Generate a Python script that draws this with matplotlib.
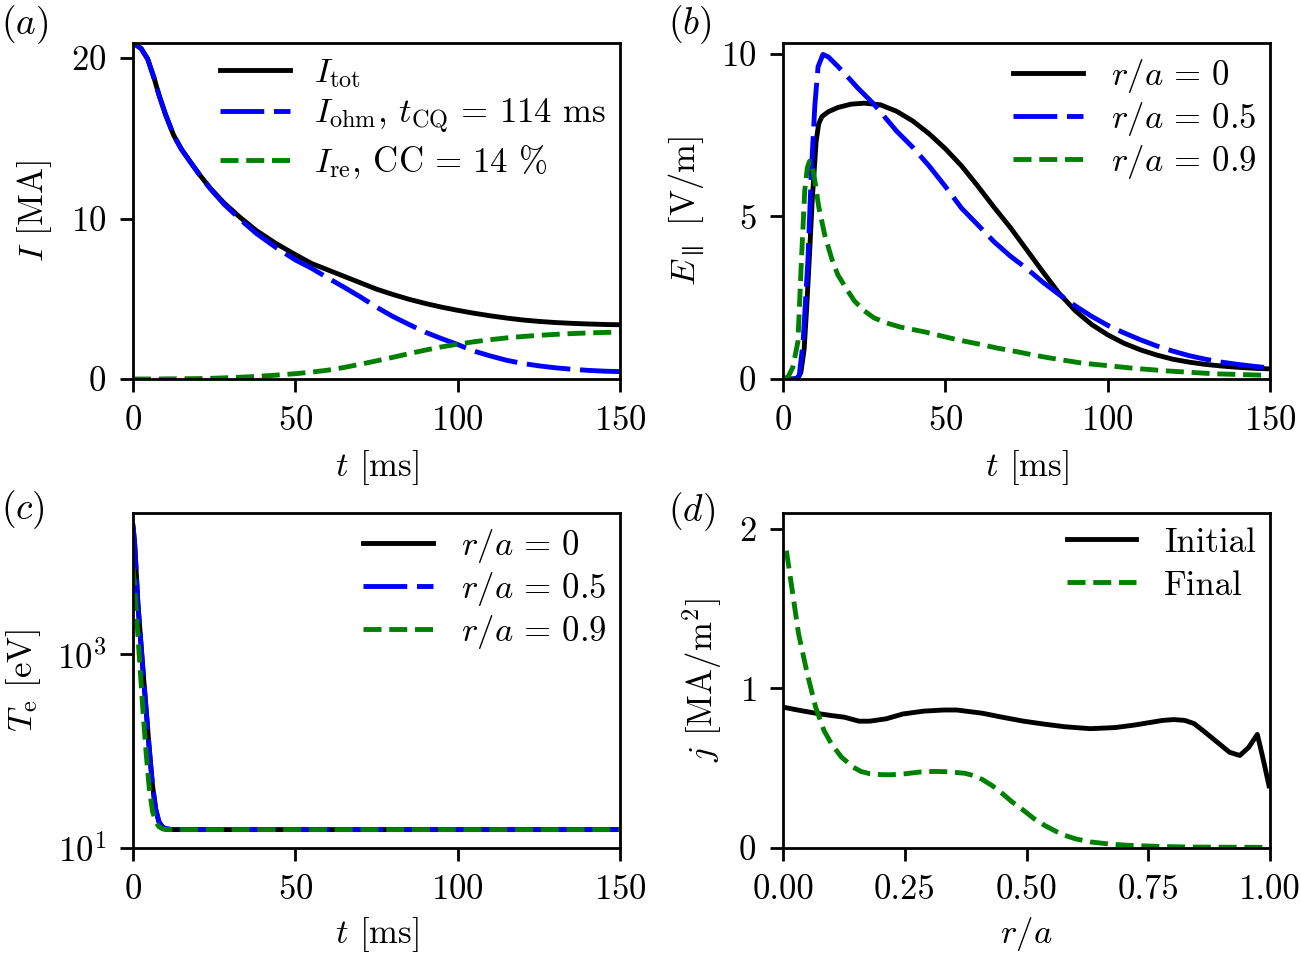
import matplotlib
matplotlib.use("Agg")
import matplotlib.pyplot as plt
from matplotlib.ticker import NullLocator

plt.rcParams.update({
    "font.family": "cmr10",
    "mathtext.fontset": "cm",
    "axes.formatter.use_mathtext": True,
    "axes.unicode_minus": False,
    "font.size": 12.5,
    "axes.labelpad": 4,
    "lines.linewidth": 1.75,
    "axes.linewidth": 1.0,
    "xtick.major.size": 4.8,
    "ytick.major.size": 4.8,
    "xtick.major.width": 1.0,
    "ytick.major.width": 1.0,
    "xtick.major.pad": 4.8,
    "ytick.major.pad": 4.8,
})

# ---------------- data (a) ----------------
t_a = [0, 2.5, 4.5, 6.5, 8, 10, 12.5, 15, 18, 21, 24, 28, 33, 38, 44, 50, 55, 60, 65, 70,
       75, 80, 85, 90, 95, 100, 105, 110, 115, 120, 125, 130, 135, 140, 145, 150]
I_tot = [20.94, 20.6, 19.95, 18.75, 17.7, 16.5, 15.2, 14.3, 13.44, 12.6, 11.85, 10.98, 10.07,
         9.25, 8.45, 7.75, 7.2, 6.8, 6.4, 6.0, 5.6, 5.27, 4.97, 4.71, 4.48, 4.28, 4.1, 3.94,
         3.8, 3.68, 3.59, 3.52, 3.47, 3.43, 3.4, 3.38]
I_ohm = [20.94, 20.6, 19.95, 18.75, 17.7, 16.49, 15.19, 14.28, 13.42, 12.57, 11.81, 10.9,
         9.95, 9.07, 8.2, 7.42, 6.9, 6.3, 5.72, 5.12, 4.48, 3.9, 3.4, 2.92, 2.52, 2.15, 1.74,
         1.44, 1.17, 0.97, 0.82, 0.7, 0.61, 0.54, 0.49, 0.46]
I_re = [0, 0, 0, 0, 0, 0.01, 0.01, 0.02, 0.02, 0.03, 0.04, 0.07, 0.11, 0.16, 0.24, 0.33,
        0.43, 0.55, 0.72, 0.92, 1.13, 1.35, 1.58, 1.8, 2.0, 2.17, 2.32, 2.45, 2.56, 2.65,
        2.72, 2.78, 2.83, 2.87, 2.9, 2.92]

# ---------------- data (b) ----------------
t_b0 = [0, 3, 4.5, 5.5, 6.5, 7.3, 8.2, 9, 9.6, 10.2, 11, 12, 14, 17, 21, 25, 30, 35, 40, 45,
        50, 55, 60, 65, 70, 75, 80, 85, 90, 95, 100, 105, 110, 115, 120, 125, 130, 135, 140,
        145, 150]
E_r0 = [0, 0, 0.03, 0.2, 0.9, 2.2, 3.9, 5.5, 6.4, 7.3, 7.85, 8.07, 8.22, 8.35, 8.45, 8.48,
        8.43, 8.23, 7.93, 7.54, 7.08, 6.55, 5.93, 5.28, 4.66, 3.98, 3.3, 2.64, 2.1, 1.68, 1.36,
        1.1, 0.9, 0.74, 0.61, 0.52, 0.45, 0.4, 0.36, 0.33, 0.31]
t_b5 = [0, 4, 5, 6.2, 7.7, 8.7, 9.8, 10.8, 12.3, 14, 17, 20, 23, 28, 35, 40, 45, 50, 55, 60,
        65, 70, 75, 80, 85, 90, 95, 100, 105, 110, 115, 120, 125, 130, 135, 140, 145, 150]
E_r5 = [0, 0, 0.1, 1.15, 3.7, 6.3, 8.4, 9.6, 9.98, 9.9, 9.6, 9.28, 8.95, 8.45, 7.62, 7.12,
        6.55, 5.92, 5.25, 4.74, 4.22, 3.78, 3.4, 2.98, 2.6, 2.25, 1.93, 1.65, 1.42, 1.21, 1.02,
        0.86, 0.72, 0.61, 0.52, 0.45, 0.39, 0.34]
t_b9 = [0, 1.5, 3, 4.6, 5.7, 6.7, 7.5, 8.2, 9, 9.8, 11, 12.8, 15, 16.9, 20, 22, 25, 28, 32,
        36, 40, 44, 51, 56, 61, 66, 72, 77, 82, 87, 92, 97, 103, 108, 113, 118, 123, 128,
        133, 140, 150]
E_r9 = [0, 0.06, 0.35, 1.15, 3.7, 5.8, 6.5, 6.7, 6.55, 6.1, 5.3, 4.45, 3.7, 3.2, 2.7, 2.4,
        2.1, 1.88, 1.72, 1.6, 1.52, 1.44, 1.27, 1.16, 1.06, 0.95, 0.84, 0.74, 0.65, 0.57,
        0.49, 0.44, 0.38, 0.33, 0.29, 0.25, 0.22, 0.19, 0.16, 0.14, 0.11]

# ---------------- data (c) ----------------
t_c0 = [0, 0.5, 1, 1.5, 2, 3, 4, 5, 6, 7, 8, 9, 10, 12, 150]
T_r0 = [21380, 14125, 7080, 3390, 2040, 741, 282, 107, 44.7, 25.1, 18.6, 16.6, 15.85, 15.5, 15.5]
T_r5 = [21380, 14125, 7080, 3390, 2040, 741, 282, 107, 44.7, 25.1, 18.6, 16.6, 15.85, 15.5, 15.5]
t_c9 = [0, 0.5, 1, 2, 3, 4, 5, 6, 7, 8, 9, 10, 150]
T_r9 = [7940, 5250, 2820, 891, 282, 100, 41.7, 24.0, 18.6, 16.6, 15.85, 15.5, 15.5]

# ---------------- data (d) ----------------
r_init = [0, 0.03, 0.067, 0.1, 0.126, 0.156, 0.178, 0.212, 0.246, 0.289, 0.33, 0.357, 0.409,
          0.45, 0.494, 0.54, 0.579, 0.631, 0.682, 0.72, 0.75, 0.78, 0.802, 0.825, 0.844,
          0.865, 0.887, 0.905, 0.917, 0.938, 0.956, 0.974, 0.985, 0.998]
j_init = [0.883, 0.865, 0.845, 0.83, 0.82, 0.795, 0.795, 0.81, 0.84, 0.858, 0.865, 0.865,
          0.845, 0.82, 0.795, 0.775, 0.76, 0.748, 0.755, 0.77, 0.785, 0.8, 0.805, 0.8, 0.78,
          0.73, 0.675, 0.63, 0.6, 0.58, 0.63, 0.712, 0.57, 0.39]
r_fin = [0.007, 0.02, 0.032, 0.05, 0.067, 0.084, 0.1, 0.12, 0.144, 0.16, 0.178, 0.2, 0.221,
         0.25, 0.28, 0.31, 0.34, 0.374, 0.39, 0.409, 0.43, 0.451, 0.47, 0.494, 0.515, 0.537,
         0.56, 0.579, 0.6, 0.631, 0.67, 0.708, 0.77, 0.836, 0.9, 1.0]
j_fin = [1.864, 1.593, 1.342, 1.09, 0.883, 0.737, 0.65, 0.57, 0.507, 0.48, 0.466, 0.46,
         0.459, 0.465, 0.476, 0.48, 0.478, 0.468, 0.455, 0.43, 0.39, 0.34, 0.29, 0.236,
         0.185, 0.142, 0.105, 0.079, 0.058, 0.038, 0.025, 0.017, 0.01, 0.006, 0.005, 0.004]

labels_a = [r"$I_{\rm tot}$", r"$I_{\rm ohm}$, $t_{\rm CQ}\,=\,114$ ms",
            r"$I_{\rm re}$, ${\rm CC}\,=\,14$ %"]
labels_r = [r"$r/a\,=\,0$", r"$r/a\,=\,0.5$", r"$r/a\,=\,0.9$"]
labels_d = ["Initial", "Final"]

BLUE_DASH = (9, 2)

fig = plt.figure(figsize=(6.505, 4.775), dpi=200)
W, H = 1301, 955
def add_ax(l, t, r, b):
    return fig.add_axes([l / W, 1 - b / H, (r - l) / W, (b - t) / H])

axa = add_ax(133, 43, 620, 379)
axb = add_ax(783, 43, 1270, 379)
axc = add_ax(133, 513, 620, 848)
axd = add_ax(783, 513, 1270, 848)

# (a)
axa.plot(t_a, I_tot, color="k", label=labels_a[0])
axa.plot(t_a, I_ohm, color="b", dashes=BLUE_DASH, label=labels_a[1])
axa.plot(t_a, I_re, color="g", ls="--", label=labels_a[2])
axa.set_xlim(0, 150)
axa.set_ylim(0, 20.94)
axa.set_xticks([0, 50, 100, 150])
axa.set_yticks([0, 10, 20])
axa.set_xlabel(r"$t$ [ms]")
axa.set_ylabel(r"$I$ [MA]", labelpad=6)
axa.legend(loc="upper right", frameon=False, borderaxespad=0.0, labelspacing=0.21,
           handletextpad=0.7)

# (b)
axb.plot(t_b0, E_r0, color="k", label=labels_r[0])
axb.plot(t_b5, E_r5, color="b", dashes=BLUE_DASH, label=labels_r[1])
axb.plot(t_b9, E_r9, color="g", ls="--", label=labels_r[2])
axb.set_xlim(0, 150)
axb.set_ylim(0, 10.33)
axb.set_xticks([0, 50, 100, 150])
axb.set_yticks([0, 5, 10])
axb.set_xlabel(r"$t$ [ms]")
axb.set_ylabel(r"$E_\parallel$ [V/m]", labelpad=5)
axb.legend(loc="upper right", frameon=False, borderaxespad=0.0, labelspacing=0.15)

# (c)
axc.plot(t_c0, T_r0, color="k", label=labels_r[0])
axc.plot(t_c0, T_r5, color="b", dashes=BLUE_DASH, label=labels_r[1])
axc.plot(t_c9, T_r9, color="g", ls="--", label=labels_r[2])
axc.set_yscale("log")
axc.set_xlim(0, 150)
axc.set_ylim(10, 2.9e4)
axc.set_yticks([10, 1000])
axc.yaxis.set_minor_locator(NullLocator())
axc.set_xticks([0, 50, 100, 150])
axc.set_xlabel(r"$t$ [ms]", labelpad=3)
axc.set_ylabel(r"$T_{\rm e}$ [eV]", labelpad=5)
axc.legend(loc="upper right", frameon=False, borderaxespad=0.0, labelspacing=0.15)

# (d)
axd.plot(r_init, j_init, color="k", label=labels_d[0])
axd.plot(r_fin, j_fin, color="g", ls="--", label=labels_d[1])
axd.set_xlim(0, 1)
axd.set_ylim(0, 2.1)
axd.set_xticks([0, 0.25, 0.5, 0.75, 1.0])
axd.set_xticklabels(["0.00", "0.25", "0.50", "0.75", "1.00"])
axd.set_yticks([0, 1, 2])
axd.set_xlabel(r"$r/a$", labelpad=3)
axd.set_ylabel(r"$j$ [MA/m$^2$]", labelpad=5)
axd.legend(loc="upper right", frameon=False, borderaxespad=0.0, labelspacing=0.33)

for lab, x, y in [("a", 1, 3), ("b", 668, 3), ("c", 1, 488), ("d", 668, 490)]:
    fig.text(x / W, 1 - y / H, r"$(%s)$" % lab, ha="left", va="top", fontsize=13.5)

fig.savefig("out.png", dpi=200)
